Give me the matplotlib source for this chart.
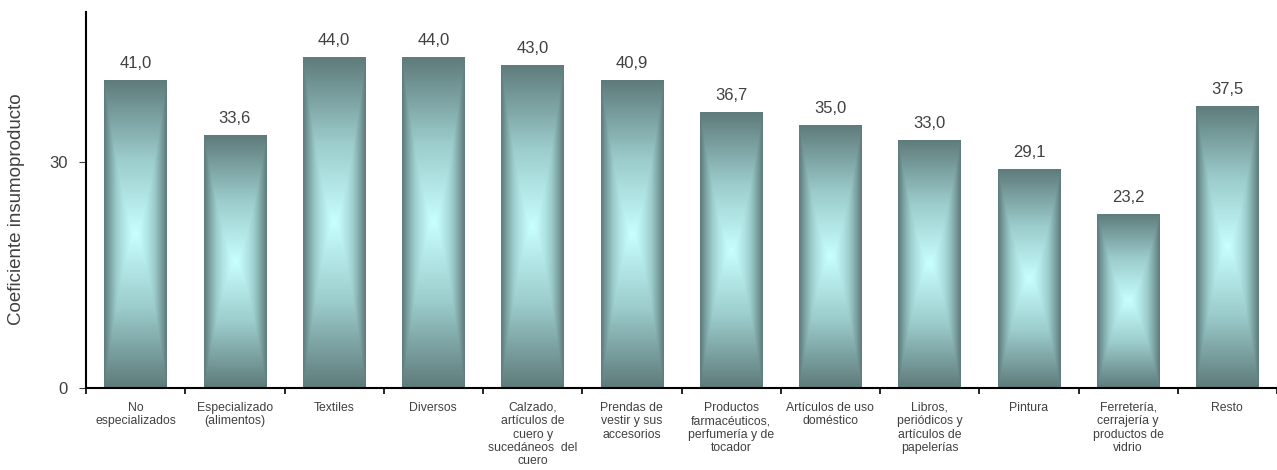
import matplotlib.pyplot as plt
import numpy as np
from matplotlib.colors import LinearSegmentedColormap

# datos
categorias = ["No\nespecializados", "Especializado\n(alimentos)", "Textiles", "Diversos",
              "Calzado,\nartículos de\ncuero y\nsucedáneos  del\ncuero",
              "Prendas de\nvestir y sus\naccesorios",
              "Productos\nfarmacéuticos,\nperfumería y de\ntocador",
              "Artículos de uso\ndoméstico",
              "Libros,\nperiódicos y\nartículos de\npapelerías",
              "Pintura",
              "Ferretería,\ncerrajería y\nproductos de\nvidrio",
              "Resto"]
valores = [41.0, 33.6, 44.0, 44.0, 43.0, 40.9, 36.7, 35.0, 33.0, 29.1, 23.2, 37.5]

plt.rcParams['font.family'] = ['Liberation Sans', 'DejaVu Sans']

fig = plt.figure(figsize=(12.77, 4.70), dpi=100)
ax = fig.add_axes([86/1277, 82/470, 1191/1277, 376/470])

x = np.arange(len(valores))
bars = ax.bar(x, valores, width=0.63, color='none', edgecolor='none')

# degradado tipo caja: oscuro en bordes, cian claro al centro
cmap = LinearSegmentedColormap.from_list('barra', ['#c8ffff', '#9ccccc', '#5f7b7b'])
gx = np.linspace(-1, 1, 120)
gy = np.linspace(-1, 1, 300)
GX, GY = np.meshgrid(gx, gy)
t = np.maximum(np.abs(GX) ** 1.4, np.abs(GY) ** 0.95)

for b in bars:
    x0 = b.get_x()
    w = b.get_width()
    h = b.get_height()
    im = ax.imshow(t, cmap=cmap, vmin=0, vmax=1, aspect='auto',
                   extent=[x0, x0 + w, 0, h], origin='lower', zorder=2,
                   interpolation='bilinear')
    im.set_clip_path(b)
    ax.text(x0 + w / 2, h + 1.2, f"{h:.1f}".replace('.', ','), ha='center', va='bottom',
            fontsize=12, color='#404040')

ax.set_xlim(-0.5, len(valores) - 0.5)
ax.set_ylim(0, 50)

ax.spines['right'].set_color('none')
ax.spines['top'].set_color('none')
ax.spines['left'].set_linewidth(1.5)
ax.spines['bottom'].set_linewidth(1.5)

ax.set_yticks([0, 30])
ax.tick_params(axis='y', labelsize=12, length=5, pad=8, colors='#404040')
ax.set_ylabel("Coeficiente insumoproducto", fontsize=13.5, color='#404040')
ax.yaxis.set_label_coords(-0.051, 0.476)

ax.set_xticks(x)
ax.set_xticklabels(categorias, fontsize=8.8, color='#404040', va='top', linespacing=1.15)
ax.tick_params(axis='x', length=0, pad=10)
ax.set_xticks(np.arange(-0.5, len(valores), 1), minor=True)
ax.tick_params(axis='x', which='minor', length=4, width=1.2)

fig.savefig("out.png", dpi=100)
